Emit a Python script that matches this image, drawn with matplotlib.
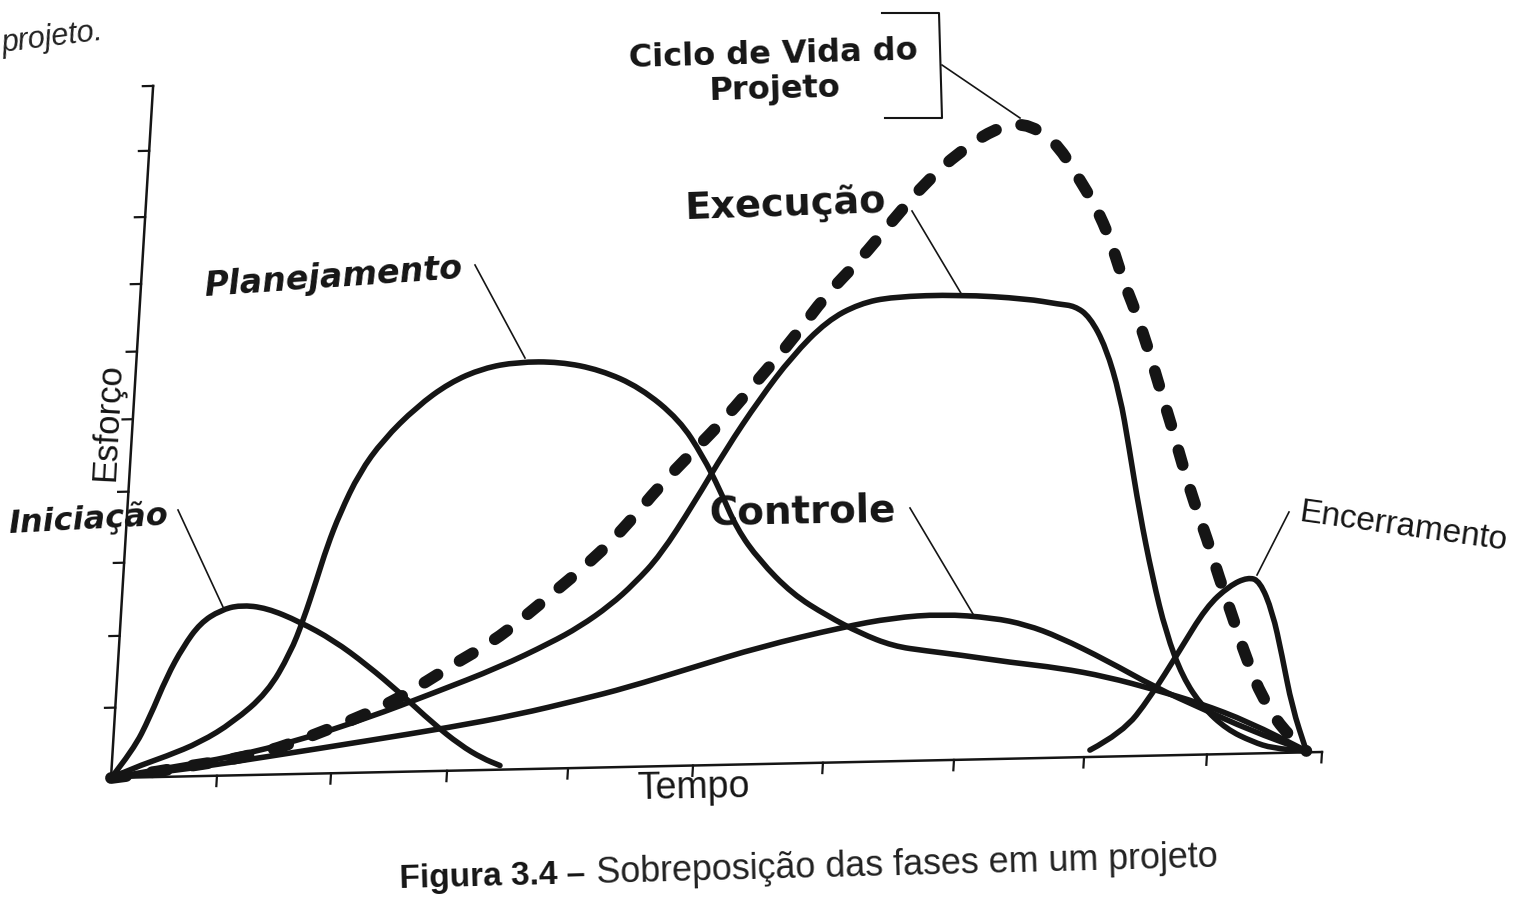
import matplotlib
matplotlib.use("Agg")
import matplotlib.pyplot as plt
from matplotlib.transforms import Affine2D
from matplotlib.path import Path
from matplotlib.patches import PathPatch

# tempo (0-10) / esforco (0-10)
ini_t = [0, 0.17, 0.29, 0.41, 0.53, 0.66, 0.82, 0.98, 1.20, 1.48, 1.77, 2.06, 2.35, 2.63, 2.87, 3.06, 3.21]
ini_e = [0, 0.40, 0.87, 1.45, 1.88, 2.22, 2.40, 2.47, 2.42, 2.21, 1.93, 1.56, 1.14, 0.70, 0.37, 0.17, 0.06]

plan_t = [0, 0.18, 0.45, 0.72, 0.98, 1.25, 1.42, 1.51, 1.60, 1.67, 1.76, 1.90, 2.08, 2.34, 2.60, 2.87,
          3.15, 3.50, 3.84, 4.18, 4.52, 4.73, 4.89, 5.05, 5.25, 5.54, 5.84, 6.12, 6.40, 6.68,
          6.96, 7.37, 7.79, 8.18, 8.60, 8.96, 9.38, 9.87]
plan_e = [0, 0.14, 0.30, 0.49, 0.77, 1.19, 1.76, 2.23, 2.81, 3.29, 3.77, 4.35, 4.82, 5.29, 5.63, 5.83,
          5.91, 5.90, 5.77, 5.50, 5.02, 4.49, 3.99, 3.42, 2.96, 2.46, 2.13, 1.87, 1.67, 1.59,
          1.52, 1.40, 1.30, 1.16, 0.95, 0.75, 0.46, 0.02]

exe_t = [0, 0.46, 1.00, 1.54, 2.09, 2.62, 3.16, 3.56, 3.80, 4.04, 4.23, 4.43, 4.68, 4.92, 5.17, 5.42,
         5.69, 5.95, 6.22, 6.77, 7.33, 7.60, 7.73, 7.86, 8.01, 8.15, 8.25, 8.37, 8.51, 8.65, 8.81,
         8.99, 9.20, 9.42, 9.59, 9.87]
exe_e = [0, 0.13, 0.27, 0.49, 0.79, 1.13, 1.49, 1.82, 2.05, 2.35, 2.66, 3.06, 3.80, 4.58, 5.29, 5.91,
         6.41, 6.65, 6.74, 6.75, 6.67, 6.58, 6.55, 6.39, 5.94, 5.24, 4.49, 3.54, 2.59, 1.78, 1.13,
         0.69, 0.36, 0.17, 0.07, 0.02]

ctrl_t = [0, 0.46, 1.28, 2.10, 2.78, 3.32, 3.84, 4.22, 4.75, 5.30, 5.97, 6.38, 6.79, 7.21, 7.49,
          7.77, 8.17, 8.60, 8.97, 9.39, 9.87]
ctrl_e = [0, 0.07, 0.26, 0.46, 0.63, 0.79, 0.99, 1.15, 1.42, 1.70, 1.96, 2.08, 2.12, 2.05, 1.94,
          1.75, 1.40, 0.98, 0.68, 0.34, 0.02]

enc_t = [8.08, 8.34, 8.55, 8.77, 8.97, 9.15, 9.30, 9.40, 9.52, 9.62, 9.73, 9.87]
enc_e = [0.10, 0.34, 0.84, 1.51, 2.14, 2.44, 2.56, 2.50, 2.05, 1.42, 0.66, 0.02]

# ciclo de vida do projeto (tracejado)
ciclo_t = [0, 0.32, 0.59, 0.87, 1.16, 1.44, 1.71, 2.00, 2.29, 2.56, 2.81, 3.08, 3.34, 3.59, 3.87,
           4.14, 4.39, 4.65, 4.91, 5.16, 5.42, 5.67, 5.93, 6.18, 6.44, 6.70, 6.96, 7.21, 7.48,
           7.68, 7.86, 7.99, 8.11, 8.24, 8.37, 8.47, 8.59, 8.70, 8.82, 8.94, 9.06, 9.19, 9.33,
           9.48, 9.66, 9.87]
ciclo_e = [0, 0.06, 0.14, 0.20, 0.29, 0.42, 0.60, 0.79, 1.02, 1.30, 1.58, 1.85, 2.21, 2.59, 3.01,
           3.51, 4.07, 4.56, 5.05, 5.60, 6.16, 6.79, 7.28, 7.84, 8.40, 8.82, 9.13, 9.24, 8.96,
           8.46, 7.97, 7.51, 6.94, 6.44, 5.86, 5.36, 4.79, 4.22, 3.65, 3.14, 2.57, 2.00, 1.37,
           0.80, 0.35, 0.02]

tempo_ticks = [0.875, 1.817, 2.775, 3.774, 4.806, 5.879, 6.961, 8.035, 9.05, 10.0]
esforco_ticks = [1.02, 2.06, 3.12, 4.15, 5.20, 6.18, 7.16, 8.13, 9.09, 10.03]

ink = "#151515"


def smooth_path(xs, ys):
    # quadratic bezier through the midpoints, so the drawn line has no corners
    verts = [(xs[0], ys[0])]
    codes = [Path.MOVETO]
    for i in range(1, len(xs) - 1):
        verts += [(xs[i], ys[i]), ((xs[i] + xs[i + 1]) / 2, (ys[i] + ys[i + 1]) / 2)]
        codes += [Path.CURVE3, Path.CURVE3]
    verts.append((xs[-1], ys[-1]))
    codes.append(Path.LINETO)
    return Path(verts, codes)


fig = plt.figure(figsize=(15.16, 9.07), dpi=100)
ax = fig.add_axes([0, 0, 1, 1])
ax.set_xlim(0, 1516)
ax.set_ylim(907, 0)
ax.axis("off")

# the scanned page is slightly skewed: map (tempo, esforco) onto the page
page = Affine2D.from_values(121.1, -2.6, 4.2, -69.0, 111, 778) + ax.transData

# axes and ticks
ax.plot([0, tempo_ticks[-1]], [0, 0], color=ink, lw=1.8, transform=page)
ax.plot([0, 0], [0, esforco_ticks[-1]], color=ink, lw=1.8, transform=page)
for v in tempo_ticks:
    ax.plot([v, v], [0, -0.15], color=ink, lw=1.6, transform=page)
for v in esforco_ticks:
    ax.plot([0, -0.085], [v, v], color=ink, lw=1.6, transform=page)

for xs, ys in [(ini_t, ini_e), (plan_t, plan_e), (exe_t, exe_e), (ctrl_t, ctrl_e), (enc_t, enc_e)]:
    ax.add_patch(PathPatch(smooth_path(xs, ys), facecolor="none", edgecolor=ink, lw=4.0,
                           capstyle="round", joinstyle="round", transform=page))
ax.add_patch(PathPatch(smooth_path(ciclo_t, ciclo_e), facecolor="none", edgecolor=ink, lw=8.5,
                       linestyle=(0, (1.3, 2.2)), capstyle="round", joinstyle="round",
                       transform=page, zorder=3))

# labels
bold = dict(family="DejaVu Sans", weight="bold", color=ink, ha="center", va="center",
            rotation_mode="anchor")
ax.text(773, 55, "Ciclo de Vida do", fontsize=23, rotation=1.5, **bold)
ax.text(774, 90, "Projeto", fontsize=23, rotation=1.5, **bold)
ax.text(785, 205, "Execução", fontsize=27.5, rotation=2, **bold)
ax.text(802, 512, "Controle", fontsize=28, rotation=1, **bold)
ax.text(333, 278, "Planejamento", fontsize=24, rotation=4, style="italic", **bold)
ax.text(88, 520, "Iniciação", fontsize=23, rotation=3, style="italic", **bold)

plain = dict(family="Liberation Sans", color=ink, ha="center", va="center", rotation_mode="anchor")
ax.text(1403, 527, "Encerramento", fontsize=24, rotation=-8, **plain)
ax.text(693, 788, "Tempo", fontsize=27, rotation=1, **plain)
ax.text(108, 422, "Esforço", fontsize=25, rotation=87, **plain)

# leader lines
thin = dict(color=ink, lw=1.2)
ax.plot([942, 1020], [65, 118], **thin)
ax.plot([912, 962], [211, 295], **thin)
ax.plot([475, 525], [265, 358], **thin)
ax.plot([178, 223], [510, 607], **thin)
ax.plot([910, 973], [508, 614], **thin)
ax.plot([1289, 1257], [512, 575], **thin)
# bracket around "Ciclo de Vida do Projeto"
ax.plot([882, 939, 942, 885], [13, 13, 118, 118], color=ink, lw=1.5)

# caption and the end of the book text above the figure
ax.text(400, 880, "Figura 3.4 –", family="Liberation Sans", weight="bold", fontsize=24,
        color=ink, ha="left", va="center", rotation=1.5, rotation_mode="anchor")
ax.text(597, 874, "Sobreposição das fases em um projeto", family="Liberation Sans",
        fontsize=25.8, color="#222222", ha="left", va="center", rotation=1.5, rotation_mode="anchor")
ax.text(2, 44, "projeto.", family="Liberation Sans", style="italic", fontsize=22,
        color="#222222", ha="left", va="center", rotation=7, rotation_mode="anchor")

fig.savefig("out.png", dpi=100, facecolor="white")
